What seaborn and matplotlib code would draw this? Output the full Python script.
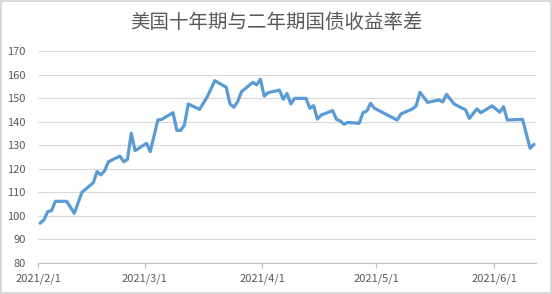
import matplotlib
matplotlib.use("Agg")
import matplotlib.pyplot as plt
import seaborn as sns
import pandas as pd

dates = [
    "2021-02-01", "2021-02-02", "2021-02-03", "2021-02-04", "2021-02-05", "2021-02-08",
    "2021-02-10", "2021-02-12", "2021-02-15", "2021-02-16", "2021-02-17", "2021-02-18",
    "2021-02-19", "2021-02-22", "2021-02-23", "2021-02-24", "2021-02-25", "2021-02-26",
    "2021-03-01", "2021-03-02", "2021-03-04", "2021-03-05", "2021-03-08", "2021-03-09",
    "2021-03-10", "2021-03-11", "2021-03-12", "2021-03-15", "2021-03-17", "2021-03-19",
    "2021-03-22", "2021-03-23", "2021-03-24", "2021-03-25", "2021-03-26", "2021-03-29",
    "2021-03-30", "2021-03-31", "2021-04-01", "2021-04-02", "2021-04-05", "2021-04-06",
    "2021-04-07", "2021-04-08", "2021-04-09", "2021-04-12", "2021-04-13", "2021-04-14",
    "2021-04-15", "2021-04-16", "2021-04-19", "2021-04-20", "2021-04-21", "2021-04-22",
    "2021-04-23", "2021-04-26", "2021-04-27", "2021-04-28", "2021-04-29", "2021-04-30",
    "2021-05-06", "2021-05-07", "2021-05-10", "2021-05-11", "2021-05-12", "2021-05-14",
    "2021-05-17", "2021-05-18", "2021-05-19", "2021-05-21", "2021-05-24", "2021-05-25",
    "2021-05-27", "2021-05-28", "2021-05-31", "2021-06-02", "2021-06-03", "2021-06-04",
    "2021-06-08", "2021-06-10", "2021-06-11",
]
spread = [
    96.9, 98.3, 101.8, 102.2, 106.2, 106.2,
    101.1, 110.0, 114.1, 118.8, 117.4, 119.2,
    123.0, 125.4, 123.0, 124.0, 135.1, 127.7,
    130.8, 127.3, 140.7, 141.0, 143.8, 136.3,
    136.3, 138.6, 147.5, 145.2, 150.6, 157.4,
    154.6, 147.5, 146.1, 148.5, 152.7, 156.7,
    155.6, 158.0, 150.9, 152.3, 153.4, 149.5,
    152.0, 147.5, 149.9, 149.9, 145.7, 146.8,
    141.1, 142.8, 144.7, 141.0, 140.3, 138.9,
    139.7, 139.3, 143.8, 144.5, 147.8, 145.7,
    140.7, 143.3, 145.4, 146.7, 152.5, 148.2,
    149.2, 148.4, 151.6, 147.5, 145.0, 141.4,
    145.4, 143.8, 146.7, 144.0, 146.4, 140.7,
    141.0, 128.7, 130.4,
]
tick_dates = ["2021-02-01", "2021-03-01", "2021-04-01", "2021-05-01", "2021-06-01"]
tick_labels = ["2021/2/1", "2021/3/1", "2021/4/1", "2021/5/1", "2021/6/1"]
y_ticks = [80, 90, 100, 110, 120, 130, 140, 150, 160, 170]
title = "美国十年期与二年期国债收益率差"

sns.set_theme(style="white")
plt.rcParams["font.family"] = ["Noto Sans CJK SC", "DejaVu Sans"]

df = pd.DataFrame({"date": pd.to_datetime(dates) + pd.Timedelta(hours=12), "spread": spread})

fig = plt.figure(figsize=(5.52, 2.94), dpi=100)
fig.patch.set_facecolor("white")
ax = fig.add_axes([0.0692, 0.1054, 0.9015, 0.7211])

sns.lineplot(data=df, x="date", y="spread", ax=ax, color="#5B9BD5", linewidth=2.3)

ax.set_xlim(pd.Timestamp("2021-02-01"), pd.Timestamp("2021-06-12"))
ax.set_ylim(80, 170)
ax.set_yticks(y_ticks)
ax.set_yticklabels([str(v) for v in y_ticks])
ax.set_xticks(pd.to_datetime(tick_dates))
ax.set_xticklabels(tick_labels)
ax.set_xlabel("")
ax.set_ylabel("")

ax.grid(axis="y", color="#D9D9D9", linewidth=0.8)
ax.grid(axis="x", visible=False)
ax.set_axisbelow(True)
for s in ["left", "right", "top"]:
    ax.spines[s].set_visible(False)
ax.spines["bottom"].set_color("#BFBFBF")
ax.spines["bottom"].set_linewidth(0.8)

ax.tick_params(axis="y", length=0, pad=9, labelsize=8, labelcolor="#595959")
ax.tick_params(axis="x", direction="out", length=3.5, width=0.8, color="#BFBFBF",
               pad=4, labelsize=8, labelcolor="#595959", bottom=True)

fig.text(0.5, 0.922, title, ha="center", va="center", fontsize=14, color="#595959")

fig.patch.set_edgecolor("#D9D9D9")
fig.patch.set_linewidth(1.5)
fig.savefig("out.png", dpi=100, facecolor="white", edgecolor=fig.patch.get_edgecolor())
